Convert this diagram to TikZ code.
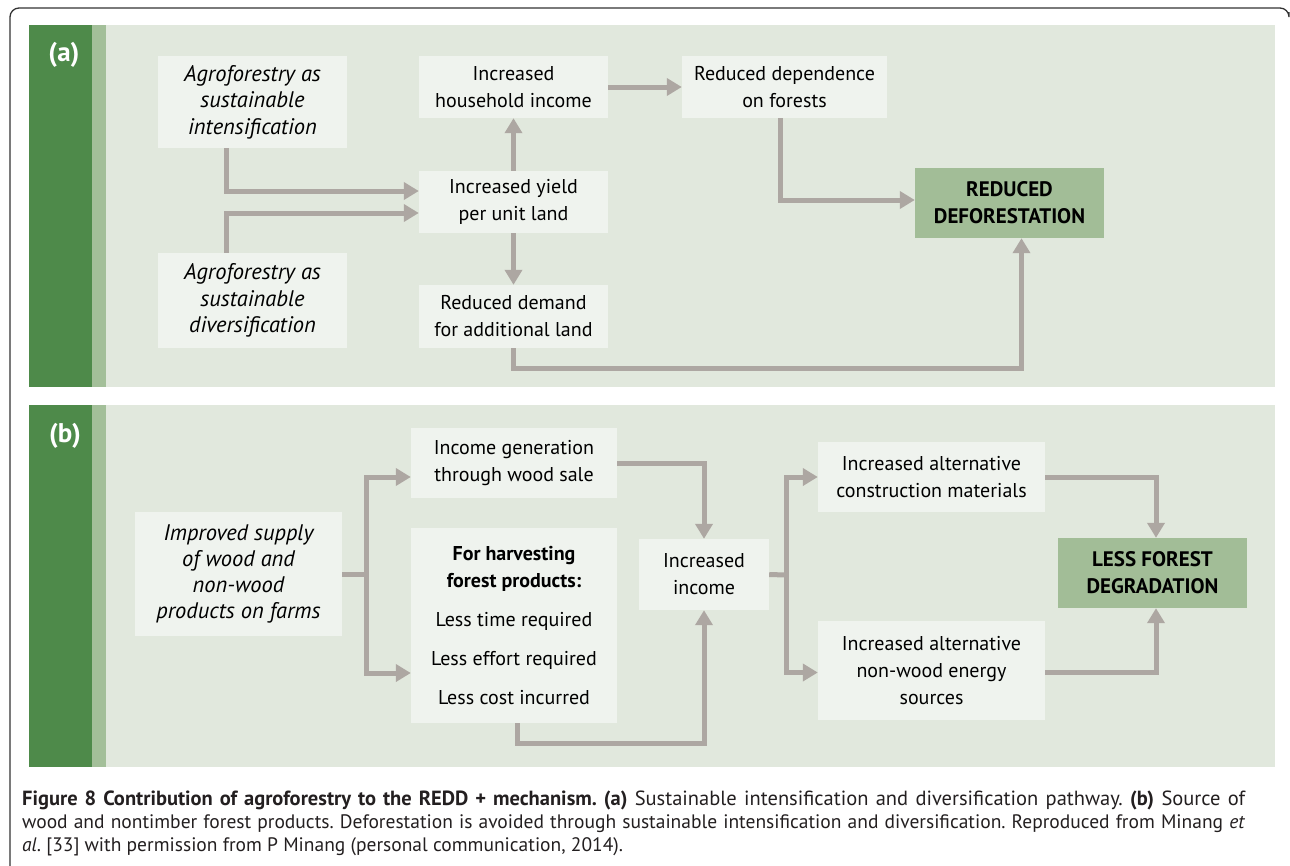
\documentclass[tikz,border=0pt]{standalone}
\usepackage{fontspec}
\setmainfont{PT Sans}
\usetikzlibrary{arrows.meta}
\definecolor{leafgreen}{HTML}{4E8A4A}
\definecolor{stripgreen}{HTML}{A3BF99}
\definecolor{panelbg}{HTML}{E1E8DD}
\definecolor{boxfill}{HTML}{EFF3EE}
\definecolor{keyfill}{HTML}{A2BD97}
\definecolor{flowgray}{HTML}{ADA7A2}
\definecolor{framegray}{HTML}{333333}
\definecolor{captext}{HTML}{231F20}
\frenchspacing
\tikzset{
	box/.style={fill=boxfill, inner sep=0pt, align=center, font=\fontsize{20}{27}\selectfont},
	slantbox/.style={box, font=\fontsize{22.5}{26.5}\selectfont\itshape},
	keybox/.style={box, fill=keyfill, font=\fontsize{21}{27}\selectfont\bfseries},
	flow/.style={draw=flowgray, line width=5pt, -{Triangle[width=17pt,length=15pt]}},
	link/.style={draw=flowgray, line width=5pt},
	tag/.style={text=white, font=\fontsize{27}{30}\selectfont\bfseries},
	capline/.style={anchor=base west, inner sep=0pt, text=captext, font=\fontsize{19.5}{23}\selectfont},
}
\begin{document}
\begin{tikzpicture}[x=1pt,y=-1pt]
	\useasboundingbox (0,0) rectangle (1290,865);
	\draw[framegray, line width=1.3pt, rounded corners=9pt] (1289,12) -- (1289,8) -- (10,8) -- (10,885);

	\fill[leafgreen] (29,25) rectangle (92,387);
	\fill[stripgreen] (92,25) rectangle (106,387);
	\fill[panelbg] (106,25) rectangle (1275,387);
	\node[tag] (taga) at (64,55) {(a)};

	\fill[leafgreen] (29,405) rectangle (92,767);
	\fill[stripgreen] (92,405) rectangle (106,767);
	\fill[panelbg] (106,405) rectangle (1275,767);
	\node[tag] (tagb) at (65,436) {(b)};

	\node[slantbox, minimum width=189pt, minimum height=92pt] (intens) at (252.5,102) {Agroforestry as\\sustainable\\intensification};
	\node[slantbox, minimum width=189pt, minimum height=95pt] (divers) at (252.5,300.5) {Agroforestry as\\sustainable\\diversification};
	\node[box, minimum width=189pt, minimum height=62pt] (yield) at (513.5,202) {Increased yield\\per unit land};
	\node[box, minimum width=189pt, minimum height=62pt] (hhincome) at (513.5,87) {Increased\\household income};
	\node[box, minimum width=189pt, minimum height=63pt] (demand) at (513.5,316.5) {Reduced demand\\for additional land};
	\node[box, minimum width=205pt, minimum height=62pt] (depend) at (784.5,87) {Reduced dependence\\on forests};
	\node[keybox, minimum width=189pt, minimum height=70pt] (defor) at (1009.5,203) {REDUCED\\DEFORESTATION};

	\draw[flow] ([xshift=-26.5pt]intens.south) |- ([yshift=11pt]yield.west);
	\draw[flow] ([xshift=-26.5pt]divers.north) |- ([yshift=-11pt]yield.west);
	\draw[flow] (yield.north) -- (hhincome.south);
	\draw[flow] (yield.south) -- (demand.north);
	\draw[flow] (hhincome.east) -- (depend.west);
	\draw[flow] ([xshift=-4pt]depend.south) |- ([yshift=3pt]defor.west);
	\draw[flow] (demand.south) -- ++(0,20) -| ([xshift=12pt]defor.south);

	\node[slantbox, minimum width=207pt, minimum height=124pt, font=\fontsize{22.5}{26}\selectfont\itshape] (supply) at (238.5,574) {Improved supply\\of wood and\\non-wood\\products on farms};
	\node[box, minimum width=206pt, minimum height=70pt] (woodsale) at (514,463) {Income generation\\through wood sale};
	\node[box, minimum width=206pt, minimum height=195pt] (harvest) at (514,625.5) {\textbf{For harvesting}\\\textbf{forest products:}\\[12pt]Less time required\\[12pt]Less effort required\\[12pt]Less cost incurred};
	\node[box, minimum width=130pt, minimum height=71pt] (income) at (704,574.5) {Increased\\income};
	\node[box, minimum width=227pt, minimum height=70pt] (constr) at (931.5,477) {Increased alternative\\construction materials};
	\node[box, minimum width=227pt, minimum height=99pt] (energy) at (931.5,670.5) {Increased alternative\\non-wood energy\\sources};
	\node[keybox, minimum width=189pt, minimum height=70pt] (degrad) at (1152.5,573) {LESS FOREST\\DEGRADATION};

	\coordinate (forksupply) at (366,574);
	\coordinate (forkincome) at (786,575);
	\draw[link] (supply.east) -- (forksupply);
	\draw[flow] (forksupply) |- ([yshift=-14pt]woodsale.west);
	\draw[flow] (forksupply) |- ([yshift=-47.5pt]harvest.west);
	\draw[flow] (woodsale.east) -| (income.north);
	\draw[flow] ([xshift=3pt]harvest.south) -- ++(0,20) -| (income.south);
	\draw[link] (income.east) -- (forkincome);
	\draw[flow] (forkincome) |- (constr.west);
	\draw[flow] (forkincome) |- ([yshift=-2pt]energy.west);
	\draw[flow] (constr.east) -| ([xshift=3.5pt]degrad.north);
	\draw[flow] ([yshift=-2pt]energy.east) -| ([xshift=3.5pt]degrad.south);

	\node[capline, font=\fontsize{20.5}{23}\selectfont] (cap1) at (22,805) {\makebox[1223pt][s]{\textbf{Figure 8 Contribution of agroforestry to the REDD + mechanism. (a)} Sustainable intensification and diversification pathway. \textbf{(b)} Source of}};
	\node[capline] (cap2) at (22,828) {\makebox[1223pt][s]{wood and nontimber forest products. Deforestation is avoided through sustainable intensification and diversification. Reproduced from Minang \textit{et}}};
	\node[capline] (cap3) at (22,851) {\textit{al}. [33] with permission from P Minang (personal communication, 2014).};
\end{tikzpicture}
\end{document}
